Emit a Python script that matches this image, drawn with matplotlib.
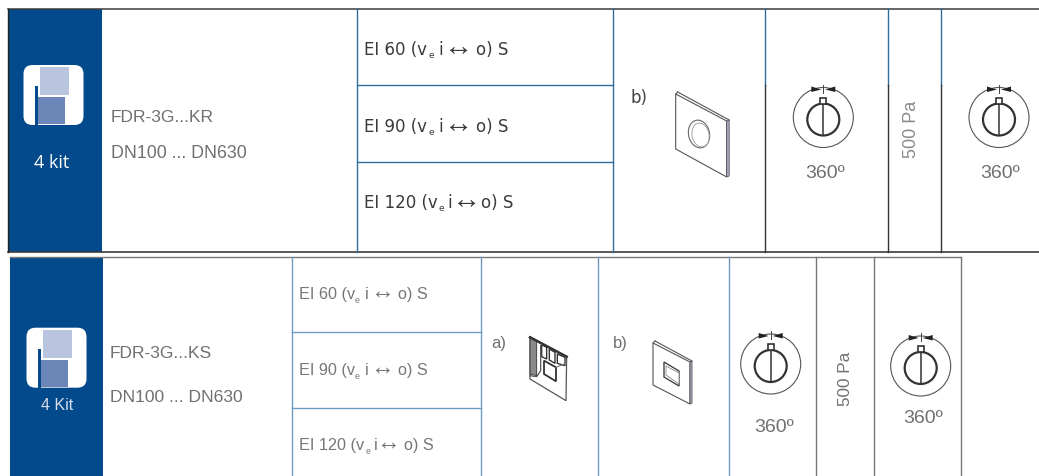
import matplotlib
matplotlib.use("Agg")
import matplotlib.pyplot as plt
from matplotlib.patches import Circle, Ellipse, FancyBboxPatch, Polygon, Rectangle

BLUE, LINE_BLUE, PALE_BLUE, DARK, GREY = "#024a8c", "#2f6f9f", "#6f9cc4", "#3c3c3c", "#707070"
LIGHT_SQ, DARK_SQ = "#b9c4df", "#6c86b8"

# top table
TOP_VLINES = [357, 612.7, 764.7, 888.3, 940.7]
TOP_ROWS = [86, 163]
TOP_CLASSES = ["EI 60", "EI 90", "EI 120"]
TOP_CLASS_Y = [50, 127, 203]
TOP_PRODUCT = ["FDR-3G...KR", "DN100 ... DN630"]
TOP_KIT = "4 kit"

# bottom table
BOT_VLINES = [291.5, 481.3, 598.3, 728.7, 815.7, 874, 961]
BOT_ROWS = [332.7, 409]
BOT_CLASSES = ["EI 60", "EI 90", "EI 120"]
BOT_CLASS_Y = [295, 370.5, 446]
BOT_PRODUCT = ["FDR-3G...KS", "DN100 ... DN630"]
BOT_KIT = "4 Kit"

PRESSURE = "500 Pa"
ANGLE = "360º"

fig = plt.figure(figsize=(10.39, 4.77), dpi=100, facecolor="white")
ax = fig.add_axes([0, 0, 1, 1])
ax.set_xlim(0, 1039)
ax.set_ylim(477, 0)
ax.axis("off")


def icon(x, y):
    ax.add_patch(FancyBboxPatch((x + 5, y + 5), 50, 50,
                                boxstyle="round,pad=5,rounding_size=9",
                                fc="white", ec="none", zorder=3))
    ax.add_patch(Rectangle((x + 16.5, y + 2), 29, 28, fc=LIGHT_SQ, ec="none", zorder=4))
    ax.add_patch(Rectangle((x + 14.5, y + 32), 27, 27, fc=DARK_SQ, ec="none", zorder=4))
    ax.add_patch(Rectangle((x + 11.5, y + 21), 3, 39, fc=BLUE, ec="none", zorder=4))


def dial(cx, cy):
    ax.add_patch(Circle((cx, cy), 30, fc="none", ec="#555555", lw=0.8))
    ax.add_patch(Circle((cx, cy + 2), 16, fc="none", ec="#333333", lw=1.6))
    ax.plot([cx, cx], [cy - 15, cy + 17], color="#333333", lw=1.1)
    ax.add_patch(Rectangle((cx - 3, cy - 20), 6, 6, fc="white", ec="#333333", lw=1.2, zorder=3))
    ax.add_patch(Polygon([(cx - 12, cy - 31), (cx - 12, cy - 25.5), (cx - 2, cy - 28)],
                         fc="#222222", ec="none", zorder=3))
    ax.add_patch(Polygon([(cx + 12, cy - 31), (cx + 12, cy - 25.5), (cx + 2, cy - 28)],
                         fc="#222222", ec="none", zorder=3))
    ax.plot([cx, cx], [cy - 33, cy - 25], color="#444444", lw=0.7)


def plate(pts, edge=2.5):
    (a, b, c, d) = pts
    ax.add_patch(Polygon(pts, fc="white", ec="#555555", lw=0.8))
    ax.add_patch(Polygon([b, (b[0] + edge, b[1] - 1), (c[0] + edge, c[1] - 1), c],
                         fc="#a9b0c4", ec="#555555", lw=0.6))
    ax.plot([a[0] + 2, b[0] + edge], [a[1] - 2, b[1] - 1], color="#555555", lw=0.8)
    ax.plot([a[0], a[0] + 2], [a[1], a[1] - 2], color="#555555", lw=0.8)


def class_label(y, name, xs, size, arrow_size, color, family):
    # name, subscript, "i", arrow and the end are set apart as in the source
    ax.text(xs[0], y, name + " (v", fontsize=size, color=color, family=family, va="center")
    ax.text(xs[1], y + 6, "e", fontsize=size * 0.55, color=color, family=family, va="center")
    ax.text(xs[2], y, "i", fontsize=size, color=color, family=family, va="center")
    ax.text(xs[3], y - 3, "↔", fontsize=arrow_size, color=color, family="Liberation Sans", va="center")
    ax.text(xs[4], y, "o) S", fontsize=size, color=color, family=family, va="center")


# top table
ax.add_patch(Rectangle((8, 10), 93.5, 242.5, fc=BLUE, ec="none"))
icon(23.5, 66)
ax.text(52, 163, TOP_KIT, color="white", fontsize=13, family="Open Sans", ha="center", va="center")
ax.plot([8, 1039], [10, 10], color=DARK, lw=1.1)
ax.plot([8, 1039], [252.5, 252.5], color=DARK, lw=1.2)
ax.plot([8, 8], [10, 252.5], color="#222222", lw=1)
for x in TOP_VLINES[:2]:
    ax.plot([x, x], [10, 252.5], color=LINE_BLUE, lw=1)
for x in TOP_VLINES[2:]:
    ax.plot([x, x], [10, 86], color=LINE_BLUE, lw=1)
    ax.plot([x, x], [86, 252.5], color="#333333", lw=1)
for y in TOP_ROWS:
    ax.plot([357, 612.7], [y, y], color=LINE_BLUE, lw=1)
top_x = [[364, 428.5, 438, 444, 476], [364, 428.5, 438, 444, 476], [364, 438.5, 447, 452, 481]]
for name, y, xs in zip(TOP_CLASSES, TOP_CLASS_Y, top_x):
    class_label(y, name, xs, 12, 21, "#3a3a3a", "DejaVu Sans")
ax.text(111, 117, TOP_PRODUCT[0], color=GREY, fontsize=12.5, family="Liberation Sans", va="center")
ax.text(111, 153.5, TOP_PRODUCT[1], color=GREY, fontsize=12.8, family="Liberation Sans", va="center")
ax.text(630, 98, "b)", color="#444444", fontsize=12, family="DejaVu Sans", va="center")
plate([(675.7, 95), (726.7, 122), (726.7, 178), (675.7, 150)])
ax.add_patch(Ellipse((699, 135), 21, 28, angle=-12, fc="white", ec="#666666", lw=0.8))
ax.add_patch(Ellipse((700.5, 136), 17, 24, angle=-12, fc="white", ec="#999999", lw=0.6))
dial(823.3, 118.5)
dial(999, 118.5)
ax.text(825, 174, ANGLE, color=GREY, fontsize=14, family="Liberation Sans", ha="center", va="center")
ax.text(1000, 173.5, ANGLE, color=GREY, fontsize=14, family="Liberation Sans", ha="center", va="center")
ax.text(912, 129, PRESSURE, color="#8a8a8a", fontsize=13, family="Liberation Sans",
        rotation=90, ha="center", va="center")

# bottom table
ax.add_patch(Rectangle((10, 257.5), 92.5, 219.5, fc=BLUE, ec="none"))
icon(26.5, 328.7)
ax.text(57, 406, BOT_KIT, color="#d5dcea", fontsize=11.5, family="Liberation Sans", ha="center", va="center")
ax.plot([10, 961], [257.5, 257.5], color="#777777", lw=1)
for x in BOT_VLINES[:4]:
    ax.plot([x, x], [257.5, 477], color=PALE_BLUE, lw=1)
for x in BOT_VLINES[4:]:
    ax.plot([x, x], [257.5, 477], color="#777777", lw=1)
for y in BOT_ROWS:
    ax.plot([291.5, 481.3], [y, y], color=PALE_BLUE, lw=1)
bot_x = [[299, 355, 365, 370, 398], [299, 355, 365, 370, 398], [299, 365.5, 374, 376, 404]]
for name, y, xs in zip(BOT_CLASSES, BOT_CLASS_Y, bot_x):
    class_label(y, name, xs, 11.7, 17, "#777777", "Liberation Sans")
ax.text(110, 353.5, BOT_PRODUCT[0], color=GREY, fontsize=12.5, family="Liberation Sans", va="center")
ax.text(110, 398, BOT_PRODUCT[1], color=GREY, fontsize=12.6, family="Liberation Sans", va="center")
ax.text(491, 344, "a)", color=GREY, fontsize=12, family="Liberation Sans", va="center")
ax.text(613, 344, "b)", color=GREY, fontsize=12, family="Liberation Sans", va="center")


# a) frame, read off a crop at 3x so p() maps crop pixels back
def p(x, y):
    return (520 + x / 3, 325 + y / 3)


ax.add_patch(Polygon([p(30, 38), p(140, 98), p(138, 230), p(30, 165)], fc="white", ec="#555555", lw=0.9))
ax.plot(*zip(p(30, 40), p(140, 98)), color="#333333", lw=1.8)
ax.add_patch(Polygon([p(30, 38), p(50, 50), p(50, 155), p(30, 150)], fc="#8a8a8a", ec="#333333", lw=0.6))
for quad in ([(65, 62), (80, 70), (80, 105), (65, 98)],
             [(88, 75), (105, 85), (105, 118), (88, 108)],
             [(112, 90), (135, 100), (135, 125), (112, 118)]):
    ax.add_patch(Polygon([p(*q) for q in quad], fc="white", ec="#333333", lw=1))
ax.add_patch(Polygon([p(72, 110), p(108, 130), p(108, 172), p(72, 150)], fc="white", ec="#333333", lw=1.3))
ax.plot(*zip(p(30, 155), p(50, 158), p(62, 140), p(62, 65)), color="#555555", lw=0.9)
ax.plot(*zip(p(108, 130), p(120, 125), p(138, 118)), color="#777777", lw=0.8)

# b) plate
plate([(653, 344), (690, 363), (690, 405), (653, 386)], edge=2)
ax.add_patch(Polygon([(664, 363), (679, 372), (679, 387), (664, 378)], fc="white", ec="#444444", lw=1))
ax.add_patch(Polygon([(666, 367), (679, 374), (679, 385), (666, 376)], fc="white", ec="#888888", lw=0.6))

dial(770.7, 365)
dial(920.7, 367)
ax.text(774, 428, ANGLE, color=GREY, fontsize=14, family="Liberation Sans", ha="center", va="center")
ax.text(923, 419, ANGLE, color=GREY, fontsize=14, family="Liberation Sans", ha="center", va="center")
ax.text(845, 379, PRESSURE, color=GREY, fontsize=12.3, family="Liberation Sans",
        rotation=90, ha="center", va="center")

fig.savefig("out.png", dpi=100)
